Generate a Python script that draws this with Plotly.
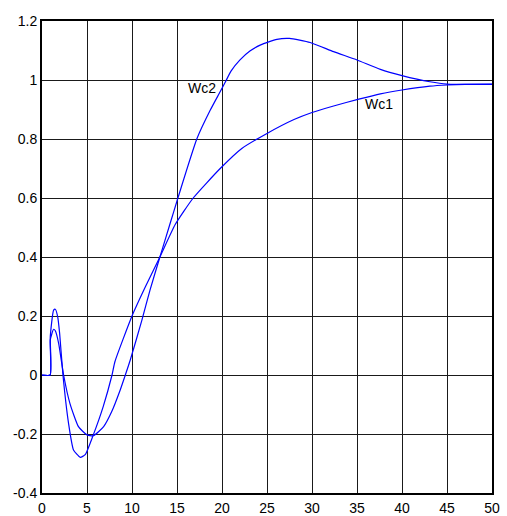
import plotly.graph_objects as go

# Step responses of the two controllers (time, output)
t_wc1 = [0, 0.9, 0.92, 1.29, 1.48, 1.74, 1.96, 2.33, 2.95, 3.5, 4.25, 4.8, 5.7,
         6.8, 7.78, 8.1, 10.0, 11.5, 13.1, 14.8, 16.8, 19.8, 22.2, 25,
         28, 30, 32.4, 35.2, 37.6, 40, 43.1, 45, 47, 50]
y_wc1 = [0, 0, 0.13, 0.22, 0.223, 0.198, 0.141, 0.0, -0.164, -0.254, -0.279,
         -0.27, -0.203, -0.107, 0.0, 0.045, 0.2, 0.3, 0.40, 0.51, 0.6,
         0.7, 0.768, 0.819, 0.866, 0.89, 0.912, 0.935, 0.953, 0.966, 0.979,
         0.983, 0.985, 0.986]

t_wc2 = [0, 0.9, 0.92, 1.29, 1.48, 1.85, 2.4, 3.1, 4.05, 5.0, 5.7, 6.85, 7.75,
         8.7, 9.26, 9.8, 11.1, 12.0, 13.1, 14.2, 15.1, 17.2, 18.7, 19.7,
         20.4, 21.0, 22.0, 23.1, 24.3, 26.1, 27.5, 29.8, 32.4, 35, 37.6,
         40, 43.1, 45, 50]
y_wc2 = [0, 0, 0.119, 0.155, 0.15, 0.107, 0.0, -0.096, -0.175, -0.203, -0.206,
         -0.175, -0.124, -0.05, 0.0, 0.05, 0.186, 0.288, 0.40, 0.51, 0.6,
         0.8, 0.898, 0.955, 0.995, 1.03, 1.068, 1.098, 1.119, 1.138, 1.141,
         1.127, 1.096, 1.068, 1.036, 1.015, 0.994, 0.986, 0.985]

x_ticks = [0, 5, 10, 15, 20, 25, 30, 35, 40, 45, 50]
y_ticks = [-0.4, -0.2, 0, 0.2, 0.4, 0.6, 0.8, 1, 1.2]
y_tick_text = ["-0.4", "-0.2", "0", "0.2", "0.4", "0.6", "0.8", "1", "1.2"]

line_style = dict(color="#0000FF", width=1.2, shape="spline", smoothing=0.5)

fig = go.Figure()
fig.add_trace(go.Scatter(x=t_wc1, y=y_wc1, mode="lines", line=line_style,
                         name="Wc1", showlegend=False))
fig.add_trace(go.Scatter(x=t_wc2, y=y_wc2, mode="lines", line=line_style,
                         name="Wc2", showlegend=False))

label_font = dict(family="Liberation Sans, Arial, sans-serif", size=14, color="#000")
fig.add_annotation(x=19.6, y=0.973, text="Wc2", showarrow=False,
                   xanchor="right", yanchor="middle", font=label_font)
fig.add_annotation(x=35.7, y=0.919, text="Wc1", showarrow=False,
                   xanchor="left", yanchor="middle", font=label_font)

axis_common = dict(
    showgrid=True, gridcolor="#1a1a1a", gridwidth=1,
    showline=True, linecolor="#000", linewidth=2, mirror=True,
    zeroline=False, ticks="", tickfont=label_font, automargin=False,
)

fig.update_xaxes(range=[0, 50], tickvals=x_ticks,
                 ticktext=[str(v) for v in x_ticks], ticklabelstandoff=1,
                 **axis_common)
fig.update_yaxes(range=[-0.4, 1.2], tickvals=y_ticks, ticktext=y_tick_text,
                 **axis_common)

fig.update_layout(
    width=507, height=516,
    margin=dict(l=42, r=15, t=21, b=23, pad=0),
    paper_bgcolor="#fff", plot_bgcolor="#fff",
)

fig.write_html("out.html")
